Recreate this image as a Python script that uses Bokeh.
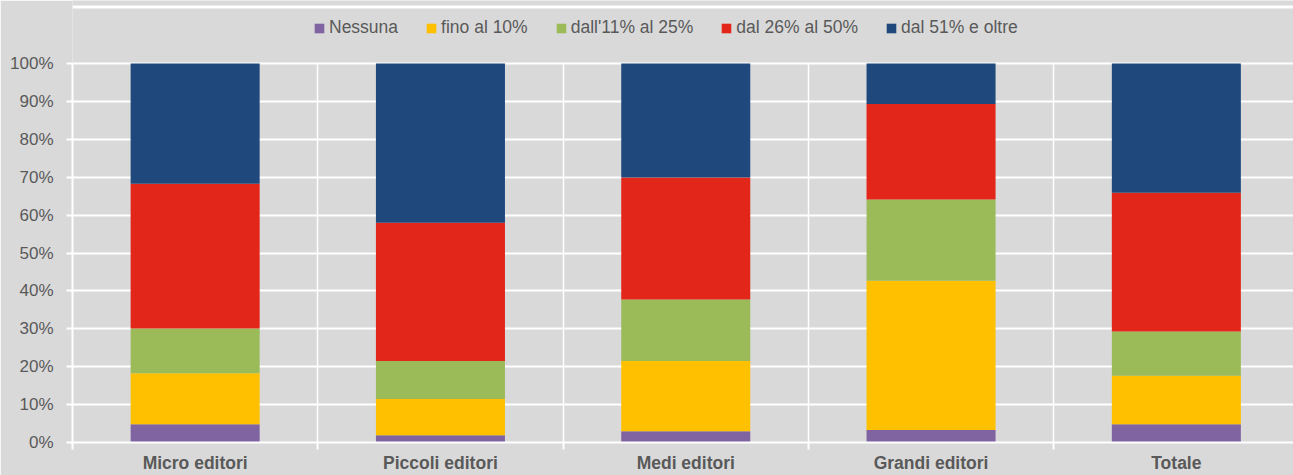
from bokeh.plotting import figure
from bokeh.models import Range1d, FixedTicker, Legend, LegendItem, ColumnDataSource, Span
from bokeh.embed import file_html
from bokeh.resources import INLINE

# ---- data (percent shares) ----
categories = ["Micro editori", "Piccoli editori", "Medi editori", "Grandi editori", "Totale"]
series = ["Nessuna", "fino al 10%", "dall'11% al 25%", "dal 26% al 50%", "dal 51% e oltre"]
nessuna = [4.8, 1.9, 3.0, 3.3, 4.8]
fino_10 = [13.5, 9.6, 18.5, 39.4, 12.8]
dall_11_25 = [11.8, 10.0, 16.2, 21.4, 11.7]
dal_26_50 = [38.2, 36.5, 32.2, 25.2, 36.6]
dal_51_oltre = [31.7, 42.0, 30.1, 10.7, 34.1]
y_ticks = [0, 10, 20, 30, 40, 50, 60, 70, 80, 90, 100]
colors = ["#8064A2", "#FFC000", "#9BBB59", "#E3261A", "#1F497D"]

FONT = "Liberation Sans"
TXT = "#595959"
BG = "#D9D9D9"

keys = ["s0", "s1", "s2", "s3", "s4"]
x_pos = [i + 0.5 for i in range(len(categories))]
source = ColumnDataSource(dict(x=x_pos, s0=nessuna, s1=fino_10, s2=dall_11_25,
                               s3=dal_26_50, s4=dal_51_oltre))

# layout (pixels)
W, H = 1293, 475
left, bottom = 72, 33
frame_w = W - left
frame_h = H - bottom
unit = 245.3            # px per category
px_per_pct = 3.79       # px per percentage point
y_top = frame_h / px_per_pct

p = figure(width=W, height=H, output_backend="svg", toolbar_location=None,
           x_range=Range1d(0, frame_w / unit), y_range=Range1d(0, y_top),
           min_border_left=left, min_border_right=0, min_border_top=0,
           min_border_bottom=bottom)
p.background_fill_color = BG
p.border_fill_color = BG
p.outline_line_color = None

renderers = p.vbar_stack(keys, x="x", width=0.526, color=colors, source=source,
                         line_color=None)

# y axis
p.yaxis.ticker = FixedTicker(ticks=y_ticks)
p.yaxis.bounds = (0, 100)
p.yaxis.major_label_overrides = {t: f"{t}%" for t in y_ticks}
p.yaxis.axis_line_color = "white"
p.yaxis.axis_line_width = 2
p.yaxis.major_tick_line_color = "white"
p.yaxis.major_tick_line_width = 2
p.yaxis.major_tick_out = 6
p.yaxis.major_tick_in = 0
p.yaxis.minor_tick_line_color = None
p.yaxis.major_label_text_font = FONT
p.yaxis.major_label_text_font_size = "17px"
p.yaxis.major_label_text_color = TXT
p.yaxis.major_label_standoff = 13

# x axis
p.xaxis.ticker = FixedTicker(ticks=x_pos, minor_ticks=list(range(len(categories) + 1)))
p.xaxis.major_label_overrides = {x: c for x, c in zip(x_pos, categories)}
p.xaxis.axis_line_color = "white"
p.xaxis.axis_line_width = 2
p.xaxis.major_tick_line_color = None
p.xaxis.major_tick_out = 0
p.xaxis.major_tick_in = 0
p.xaxis.minor_tick_line_color = "white"
p.xaxis.minor_tick_line_width = 2
p.xaxis.minor_tick_out = 7
p.xaxis.minor_tick_in = 0
p.xaxis.major_label_text_font = FONT
p.xaxis.major_label_text_font_size = "17.5px"
p.xaxis.major_label_text_font_style = "bold"
p.xaxis.major_label_text_color = TXT
p.xaxis.major_label_standoff = 3

# grids
p.ygrid.ticker = FixedTicker(ticks=y_ticks)
p.ygrid.grid_line_color = "white"
p.ygrid.grid_line_width = 2
p.xgrid.ticker = FixedTicker(ticks=list(range(1, len(categories) + 1)))
p.xgrid.cross_bounds = (0, 100)
p.xgrid.grid_line_color = "white"
p.xgrid.grid_line_width = 1.5

# thin white rule near the top edge of the chart area
p.add_layout(Span(location=(frame_h - 6.5) / px_per_pct, dimension="width",
                  line_color="white", line_width=3))

# legend (inside the frame, above the 100% line)
legend = Legend(items=[LegendItem(label=s, renderers=[r]) for s, r in zip(series, renderers)],
                orientation="horizontal", location=(241, frame_h - 38),
                glyph_width=12, glyph_height=12, label_standoff=4, spacing=27,
                padding=0, margin=0, label_height=20,
                label_text_font=FONT, label_text_font_size="17.5px",
                label_text_color=TXT, background_fill_alpha=0,
                border_line_color=None)
p.add_layout(legend, "center")

open("out.html", "w").write(file_html(p, INLINE))
